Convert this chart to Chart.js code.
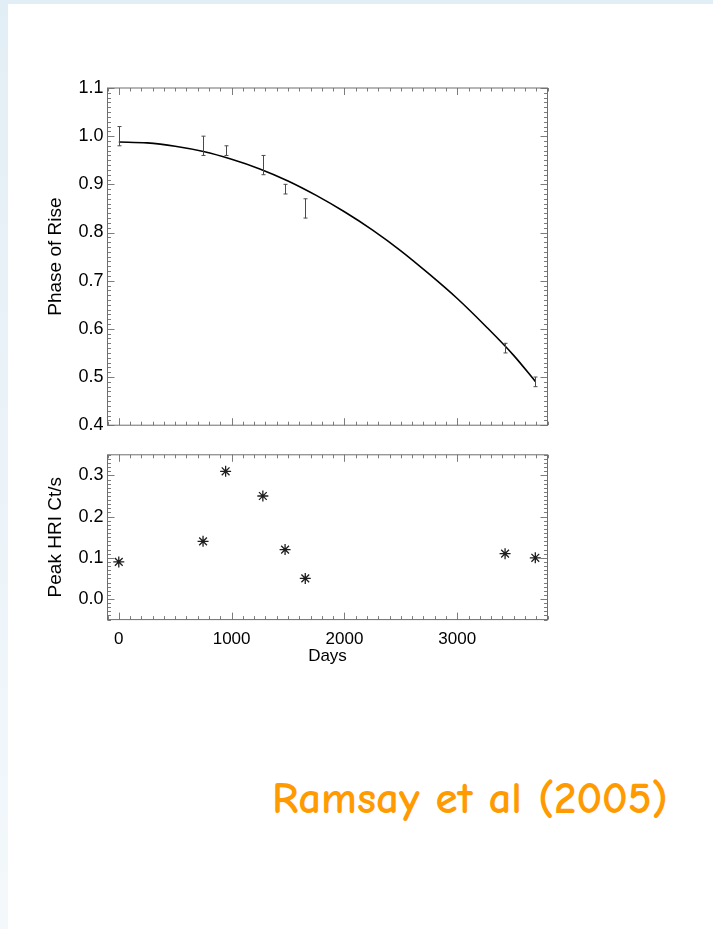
<!DOCTYPE html>
<html>
<head>
<meta charset="utf-8">
<script src="https://cdn.jsdelivr.net/npm/chart.js@4.4.1/dist/chart.umd.min.js"></script>
<style>
  html, body { margin: 0; padding: 0; background: #ffffff; }
  body { width: 713px; height: 929px; position: relative; overflow: hidden; }
  #topband { position: absolute; left: 0; top: 0; width: 713px; height: 4px; background: #e2eef5; }
  #leftband { position: absolute; left: 0; top: 0; width: 8px; height: 929px;
              background: linear-gradient(#e2eef5, #f4f8fb); }
  canvas { position: absolute; left: 0; }
  #phaseChart { top: 0; }
  #peakChart { top: 440px; }
  #credit { position: absolute; left: 272px; top: 772px; margin: 0;
            font-family: "Comic Sans MS", "Comic Neue", Lato, sans-serif;
            font-size: 45px; font-weight: bold; line-height: 52px; color: #ff9a00; white-space: nowrap; }
</style>
</head>
<body>
<div id="topband"></div>
<div id="leftband"></div>
<canvas id="phaseChart" width="713" height="440"></canvas>
<canvas id="peakChart" width="713" height="260"></canvas>
<p id="credit">Ramsay et al (2005)</p>

<script>
// Observation epochs (days since first observation)
const days = [0, 747, 947, 1277, 1474, 1653, 3424, 3692];
// Phase of the rise with its 1-sigma error
const phase = [1.00, 0.98, 0.97, 0.94, 0.89, 0.85, 0.56, 0.49];
const phaseErr = [0.02, 0.02, 0.01, 0.02, 0.01, 0.02, 0.01, 0.01];
// Peak HRI count rate (ct/s)
const peakRate = [0.09, 0.14, 0.31, 0.25, 0.12, 0.05, 0.11, 0.10];

// Fitted ephemeris curve, sampled along the time axis
const fitDays = [0, 250, 500, 750, 1000, 1250, 1500, 1750, 2000, 2250, 2500, 2750, 3000, 3250, 3500, 3692];
const fitPhase = [0.988, 0.986, 0.979, 0.968, 0.952, 0.932, 0.907, 0.877, 0.843, 0.805, 0.762, 0.714, 0.663, 0.606, 0.545, 0.491];

// Tick values
const dayTicks = [0, 1000, 2000, 3000];
const phaseTicks = [0.4, 0.5, 0.6, 0.7, 0.8, 0.9, 1.0, 1.1];
const peakTicks = [0.0, 0.1, 0.2, 0.3];

const FAMILY = '"Liberation Sans", Arial, Helvetica, sans-serif';
const X_FONT = { family: FAMILY, size: 17 };
const Y_FONT = { family: FAMILY, size: 18 };
const Y_TITLE_FONT = { family: FAMILY, size: 19 };
const FRAME = '#6e6e6e';
const TICK = '#7c7c7c';

// Box frame with IDL-style inward ticks on all four sides
const frameTicks = {
  id: 'frameTicks',
  afterDatasetsDraw(chart, args, o) {
    const { ctx, chartArea: a, scales: { x, y } } = chart;
    ctx.save();
    ctx.lineWidth = 1;
    ctx.strokeStyle = TICK;
    ctx.beginPath();
    const xs = (v) => Math.round(x.getPixelForValue(v)) + 0.5;
    const ys = (v) => Math.round(y.getPixelForValue(v)) + 0.5;
    const xTick = (v, len) => {
      const px = xs(v);
      ctx.moveTo(px, a.bottom); ctx.lineTo(px, a.bottom - len);
      ctx.moveTo(px, a.top); ctx.lineTo(px, a.top + len);
    };
    const yTick = (v, len) => {
      const py = ys(v);
      ctx.moveTo(a.left, py); ctx.lineTo(a.left + len, py);
      ctx.moveTo(a.right, py); ctx.lineTo(a.right - len, py);
    };
    for (let i = Math.ceil(x.min / o.xMinor); i * o.xMinor <= x.max; i++) xTick(i * o.xMinor, o.minorLen);
    for (let i = Math.ceil(y.min / o.yMinor - 1e-6); i * o.yMinor <= y.max + 1e-9; i++) yTick(i * o.yMinor, o.minorLen);
    o.xMajor.forEach(v => xTick(v, o.majorLen));
    o.yMajor.forEach(v => yTick(v, o.majorLen));
    ctx.stroke();
    ctx.strokeStyle = FRAME;
    ctx.strokeRect(a.left, a.top, a.right - a.left, a.bottom - a.top);
    ctx.restore();
  }
};

// Vertical error bars with small caps
const errorBars = {
  id: 'errorBars',
  afterDatasetsDraw(chart, args, o) {
    if (!o.errors) return;
    const { ctx, scales: { x, y } } = chart;
    const pts = chart.data.datasets[o.datasetIndex].data;
    ctx.save();
    ctx.strokeStyle = '#4a4a4a';
    ctx.lineWidth = 1;
    ctx.beginPath();
    pts.forEach((p, i) => {
      const px = Math.round(x.getPixelForValue(p.x)) + 0.5;
      const top = y.getPixelForValue(p.y + o.errors[i]);
      const bot = y.getPixelForValue(p.y - o.errors[i]);
      ctx.moveTo(px, top); ctx.lineTo(px, bot);
      ctx.moveTo(px - 2, top); ctx.lineTo(px + 2, top);
      ctx.moveTo(px - 2, bot); ctx.lineTo(px + 2, bot);
    });
    ctx.stroke();
    ctx.restore();
  }
};

const setTicks = (vals) => (s) => { s.ticks = vals.map(v => ({ value: v })); };

function yAxis(min, max, ticks, title) {
  return {
    type: 'linear', min, max,
    afterBuildTicks: setTicks(ticks),
    ticks: { font: Y_FONT, color: '#000', padding: 4, callback: v => Number(v).toFixed(1) },
    grid: { display: false, drawTicks: false },
    border: { display: false },
    title: { display: true, text: title, font: Y_TITLE_FONT, color: '#000', padding: { top: 44.5, bottom: 0 } },
    afterFit(s) { s.width = 107.5; }
  };
}

// Upper panel: phase of rise with fitted curve
new Chart(document.getElementById('phaseChart'), {
  type: 'scatter',
  data: {
    datasets: [
      { label: 'Fit', data: fitDays.map((d, i) => ({ x: d, y: fitPhase[i] })),
        showLine: true, borderColor: '#000', borderWidth: 1.6, pointRadius: 0,
        cubicInterpolationMode: 'monotone', fill: false },
      { label: 'Phase of Rise', data: days.map((d, i) => ({ x: d, y: phase[i] })),
        showLine: false, pointRadius: 0 }
    ]
  },
  options: {
    responsive: false, animation: false,
    layout: { padding: { top: 88, right: 165.5, bottom: 14, left: 0 } },
    plugins: {
      legend: { display: false }, tooltip: { enabled: false },
      frameTicks: { xMinor: 100, yMinor: 0.01, xMajor: dayTicks, yMajor: phaseTicks, minorLen: 3.5, majorLen: 7 },
      errorBars: { datasetIndex: 1, errors: phaseErr }
    },
    scales: {
      x: { type: 'linear', min: -100, max: 3800, afterBuildTicks: setTicks(dayTicks),
           ticks: { display: false }, grid: { display: false, drawTicks: false }, border: { display: false },
           afterFit(s) { s.height = 0; } },
      y: yAxis(0.4, 1.1, phaseTicks, 'Phase of Rise')
    }
  },
  plugins: [frameTicks, errorBars]
});

// Lower panel: peak count rate
new Chart(document.getElementById('peakChart'), {
  type: 'scatter',
  data: {
    datasets: [
      { label: 'Peak HRI Ct/s', data: days.map((d, i) => ({ x: d, y: peakRate[i] })),
        showLine: false, pointStyle: 'star', pointRadius: 5.5, borderColor: '#1e1e1e',
        backgroundColor: 'rgba(0,0,0,0)', borderWidth: 1.3 }
    ]
  },
  options: {
    responsive: false, animation: false,
    layout: { padding: { top: 11.5, right: 165.5, bottom: 33.4, left: 0 } },
    plugins: {
      legend: { display: false }, tooltip: { enabled: false },
      frameTicks: { xMinor: 100, yMinor: 0.01, xMajor: dayTicks, yMajor: peakTicks, minorLen: 3.5, majorLen: 7 }
    },
    scales: {
      x: { type: 'linear', min: -100, max: 3800, afterBuildTicks: setTicks(dayTicks),
           ticks: { font: X_FONT, color: '#000', padding: 10, maxRotation: 0, callback: v => String(v) },
           grid: { display: false, drawTicks: false }, border: { display: false },
           title: { display: true, text: 'Days', font: X_FONT, color: '#000', padding: { top: 0, bottom: 0 } },
           afterFit(s) { s.height = 47; } },
      y: yAxis(-0.05, 0.35, peakTicks, 'Peak HRI Ct/s')
    }
  },
  plugins: [frameTicks]
});
</script>
</body>
</html>
